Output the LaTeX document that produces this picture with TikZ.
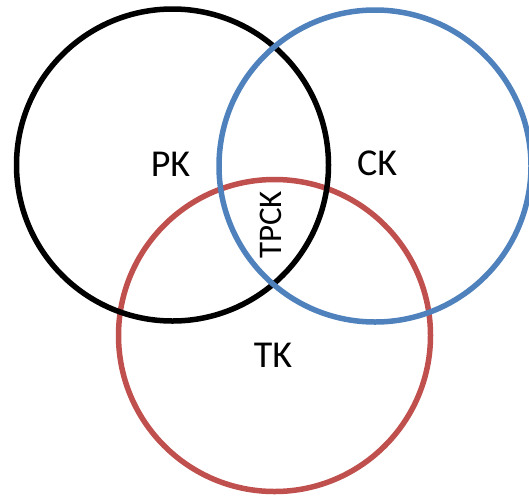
\documentclass[tikz,border=0pt]{standalone}
\usepackage{fontspec}
\setmainfont{Carlito}
\definecolor{vblue}{RGB}{79,129,189}
\definecolor{vred}{RGB}{192,80,77}
\begin{document}
\begin{tikzpicture}[x=1pt,y=-1pt,
  ring/.style={circle,draw,line width=5.5pt,minimum size=312pt,inner sep=0pt},
  lab/.style={font=\fontsize{38}{40}\selectfont,inner sep=0pt}]
\useasboundingbox (0,0) rectangle (529,496);
\node[ring,draw=vred] (tk) at (274.5,335.5) {};
\node[ring,draw=black] (pk) at (172.5,165) {};
\node[ring,draw=vblue] (ck) at (375,166) {};
\node[lab] (pkl) at (170.5,164) {PK};
\node[lab] (ckl) at (377,163) {CK};
\node[lab] (tkl) at (273,355) {TK};
\node[lab,font=\fontsize{33}{36}\selectfont,rotate=90] (tpck) at (271,225) {TPCK};
\end{tikzpicture}
\end{document}
